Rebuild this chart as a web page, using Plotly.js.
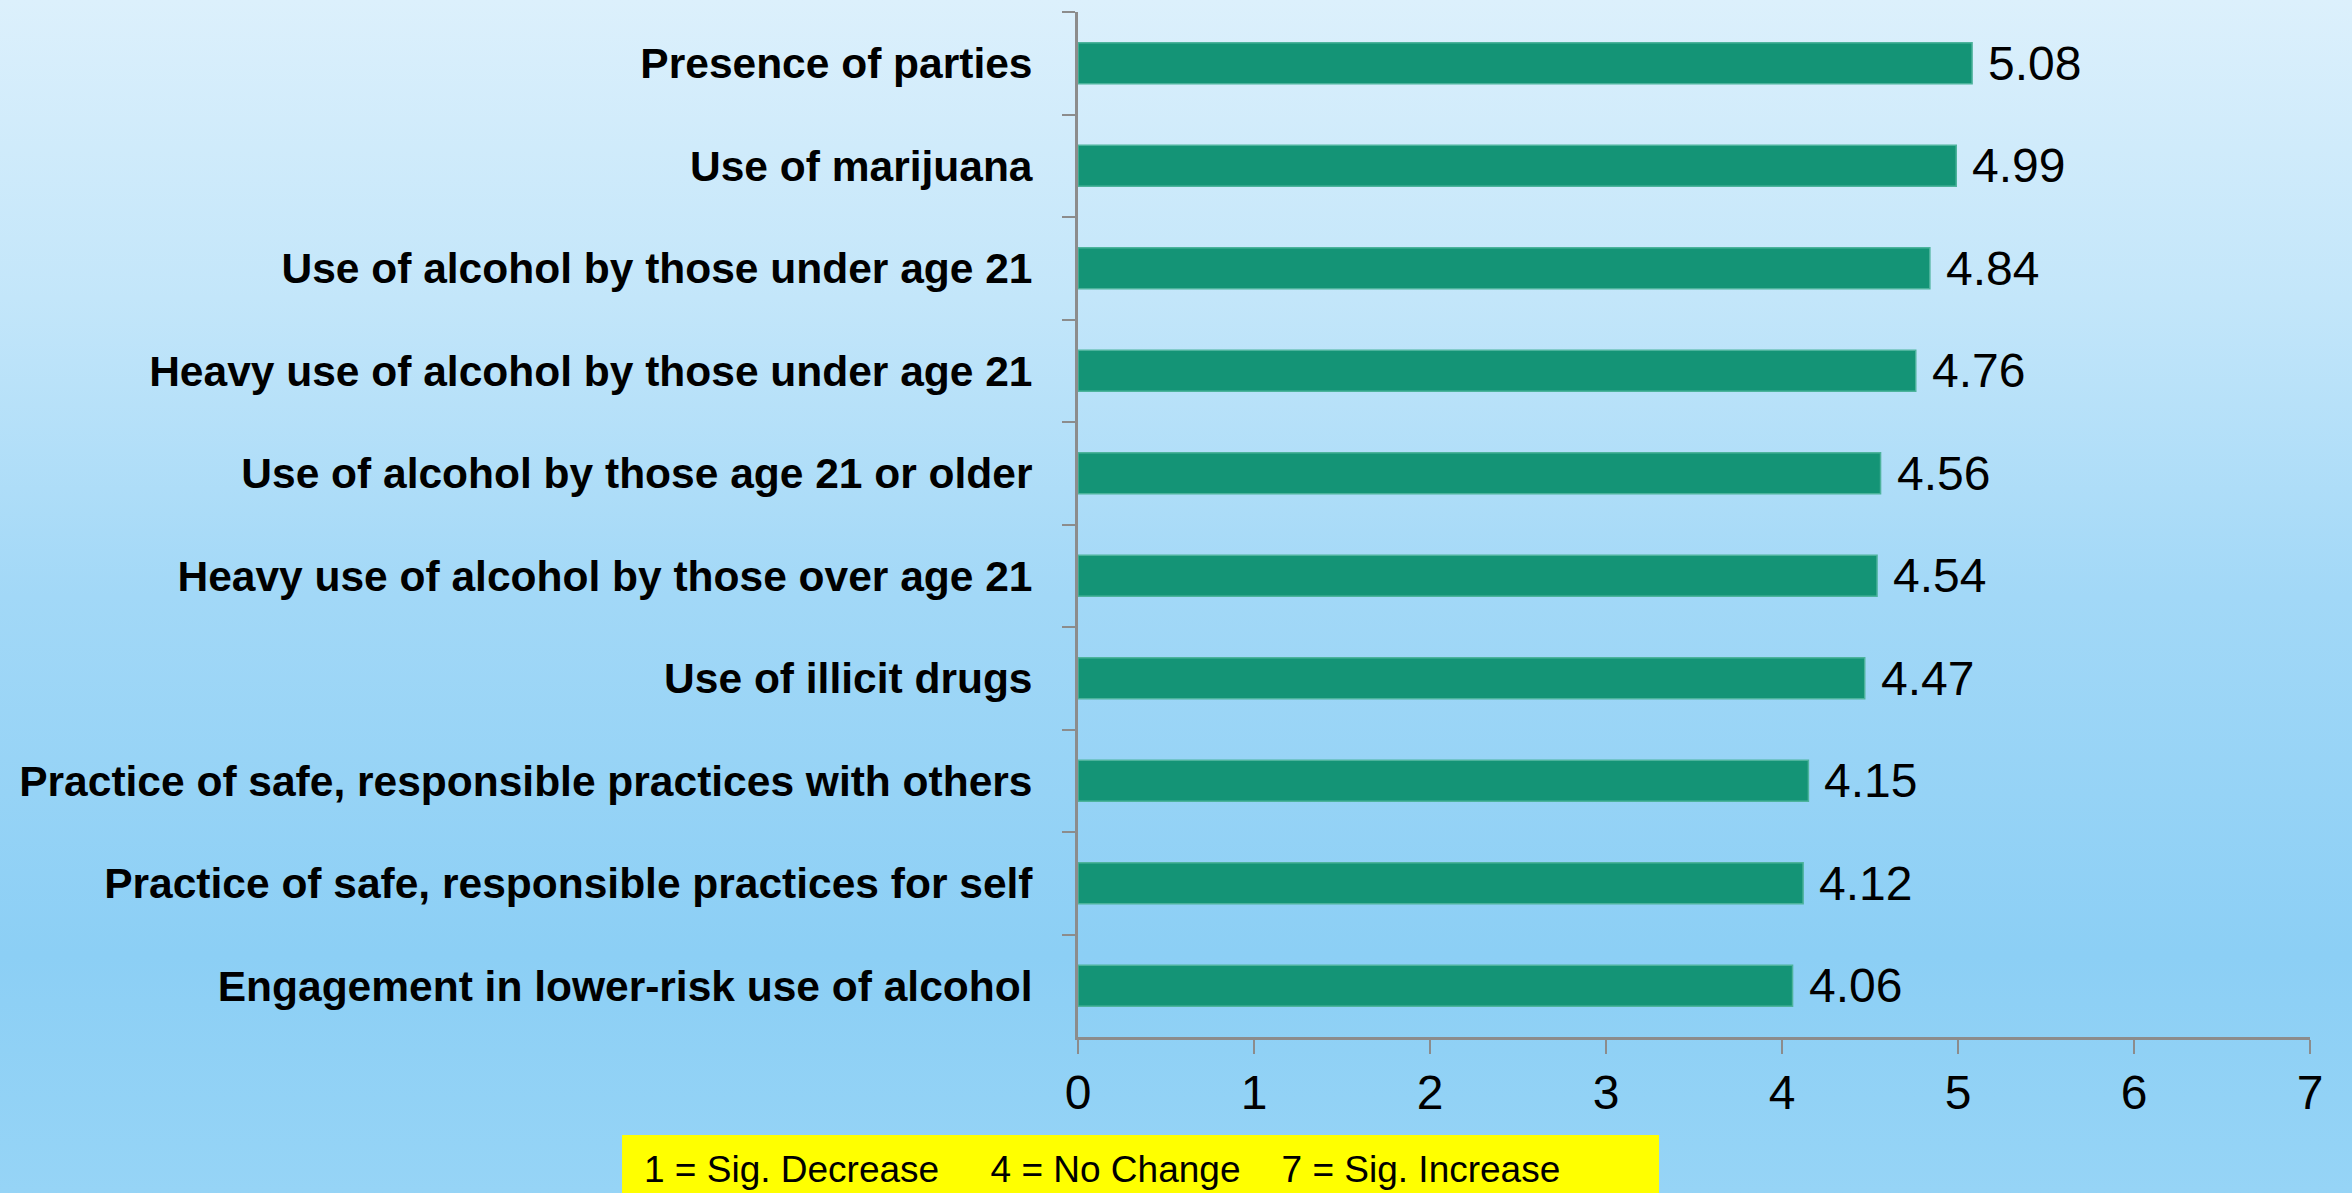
<!DOCTYPE html>
<html>
<head>
<meta charset="utf-8">
<script src="https://cdn.plot.ly/plotly-3.0.1.min.js"></script>
<style>
html, body { margin:0; padding:0; width:2352px; height:1193px; overflow:hidden; }
body { background: linear-gradient(to bottom, #dcf0fc 0%, #c3e6fa 25%, #a2d8f7 50%, #8ccff5 80%, #96d4f6 100%); }
#chart { width:2352px; height:1193px; }
</style>
</head>
<body>
<div id="chart"></div>
<script>
const categories = [
  "Presence of parties",
  "Use of marijuana",
  "Use of alcohol by those under age 21",
  "Heavy use of alcohol by those under age 21",
  "Use of alcohol by those age 21 or older",
  "Heavy use of alcohol by those over age 21",
  "Use of illicit drugs",
  "Practice of safe, responsible practices with others",
  "Practice of safe, responsible practices for self",
  "Engagement in lower-risk use of alcohol"
];
const values = [5.08, 4.99, 4.84, 4.76, 4.56, 4.54, 4.47, 4.15, 4.12, 4.06];
const xTicks = [0, 1, 2, 3, 4, 5, 6, 7];
const scaleNote = "1 = Sig. Decrease\u00a0\u00a0\u00a0\u00a0\u00a04 = No Change\u00a0\u00a0\u00a0\u00a07 = Sig. Increase";

const font = "'Liberation Sans', Arial, sans-serif";

const trace = {
  type: 'bar',
  orientation: 'h',
  x: values,
  y: categories,
  width: 0.4,
  marker: { color: '#149476', line: { color: '#4db39c', width: 1.5 } },
  hoverinfo: 'skip'
};

const annotations = values.map((v, i) => ({
  x: v, y: categories[i], xref: 'x', yref: 'y',
  text: v.toFixed(2), showarrow: false,
  xanchor: 'left', yanchor: 'middle', xshift: 14,
  font: { family: font, size: 48, color: '#000' }
}));
annotations.push({
  x: -0.3539, y: -0.1288, xref: 'paper', yref: 'paper',
  text: scaleNote, showarrow: false, xanchor: 'left', yanchor: 'middle',
  font: { family: font, size: 37, color: '#000' }
});

const layout = {
  width: 2352, height: 1193,
  margin: { l: 1078, r: 42, t: 12, b: 156 },
  paper_bgcolor: 'rgba(0,0,0,0)',
  plot_bgcolor: 'rgba(0,0,0,0)',
  showlegend: false,
  xaxis: {
    range: [0, 7], tickvals: xTicks, ticktext: xTicks.map(String),
    showgrid: false, zeroline: false,
    showline: true, linecolor: '#8c8c8c', linewidth: 3,
    ticks: 'outside', ticklen: 14, tickwidth: 2, tickcolor: '#8c8c8c',
    tickfont: { family: font, size: 48, color: '#000' },
    ticklabelstandoff: -3
  },
  yaxis: {
    type: 'category', range: [9.5, -0.5],
    showgrid: false, zeroline: false,
    showline: true, linecolor: '#8c8c8c', linewidth: 3,
    ticks: 'outside', ticklen: 13, tickwidth: 2, tickcolor: '#8c8c8c',
    tickson: 'boundaries',
    tickfont: { family: font, size: 42.5, color: '#000', weight: 'bold' },
    ticklabelstandoff: 34
  },
  shapes: [{
    type: 'rect', xref: 'paper', yref: 'paper',
    x0: -0.3701, x1: 0.4716, y0: -0.0956, y1: -0.2,
    fillcolor: '#ffff00', line: { width: 0 }, layer: 'below'
  }],
  annotations: annotations
};

Plotly.newPlot('chart', [trace], layout, { displayModeBar: false, staticPlot: true });
</script>
</body>
</html>
